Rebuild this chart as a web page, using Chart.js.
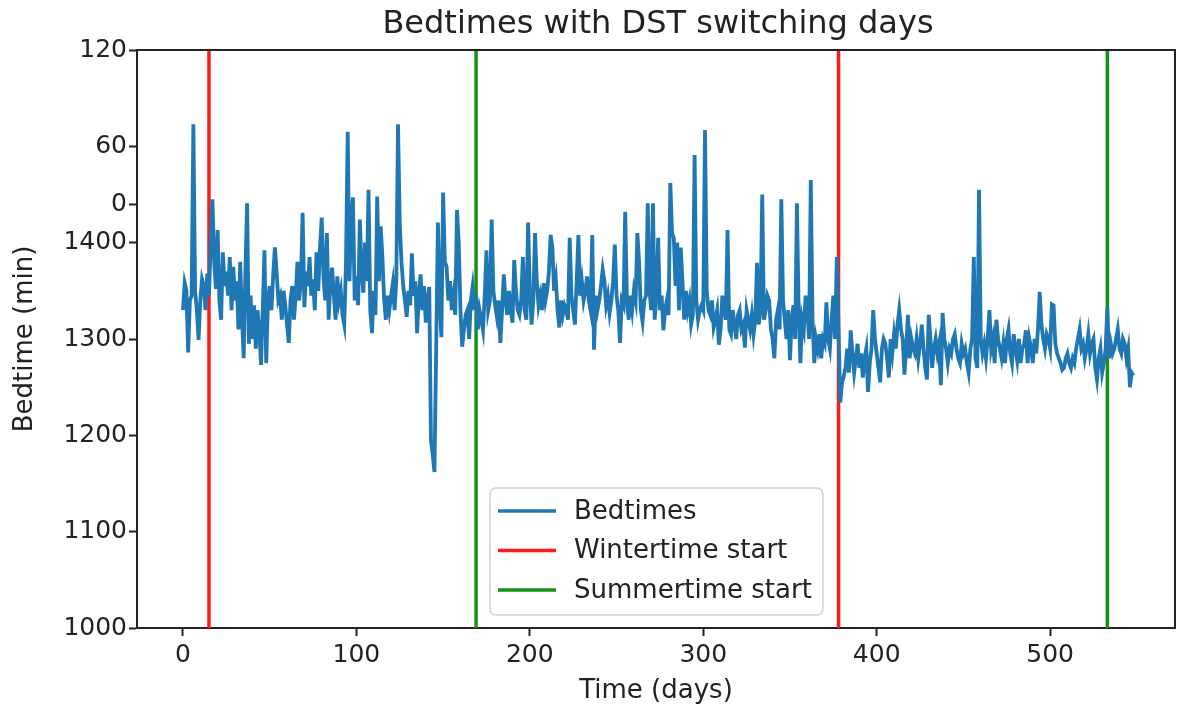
<!DOCTYPE html>
<html>
<head>
<meta charset="utf-8">
<script src="https://cdn.jsdelivr.net/npm/chart.js@4.4.1/dist/chart.umd.min.js"></script>
<style>
  html, body { margin: 0; padding: 0; background: #fff; }
  #bedChart { display: block; }
</style>
</head>
<body>
<canvas id="bedChart" width="1178" height="713"></canvas>
<script>
// --- Data: one bedtime per day (minutes since midnight, wrapped past 1440) ---
const bedtimes = [
  1330, 1358, 1350, 1286, 1340, 1345, 1523, 1350, 1330, 1299,
  1340, 1362, 1355, 1330, 1368, 1345, 1400, 1445, 1380, 1352,
  1413, 1340, 1320, 1390, 1355, 1370, 1345, 1385, 1330, 1375,
  1340, 1360, 1310, 1380, 1325, 1280, 1370, 1441, 1295, 1345,
  1300, 1335, 1290, 1330, 1310, 1273, 1330, 1392, 1275, 1340,
  1355, 1330, 1365, 1395, 1370, 1340, 1345, 1320, 1350, 1335,
  1315, 1296, 1340, 1355, 1320, 1345, 1380, 1340, 1360, 1431,
  1333, 1370, 1355, 1385, 1345, 1362, 1330, 1390, 1350, 1395,
  1426, 1365, 1340, 1410, 1320, 1360, 1374, 1345, 1320, 1365,
  1340, 1350, 1325, 1315, 1380, 1515, 1360, 1420, 1447, 1340,
  1365, 1335, 1424, 1370, 1348, 1400, 1360, 1455, 1330, 1306,
  1350, 1325, 1448, 1360, 1417, 1385, 1340, 1320, 1345, 1330,
  1345, 1358, 1330, 1360, 1523, 1420, 1380, 1355, 1340, 1323,
  1350, 1335, 1389, 1345, 1360, 1306, 1345, 1367, 1330, 1355,
  1317, 1340, 1354, 1195, 1180, 1162, 1290, 1421, 1340, 1302,
  1452, 1380, 1375, 1340, 1360, 1330, 1345, 1325, 1434, 1400,
  1330, 1292, 1310, 1325, 1330, 1300, 1340, 1354, 1330, 1345,
  1310, 1330, 1320, 1309, 1345, 1392, 1330, 1340, 1424, 1350,
  1335, 1323, 1340, 1296, 1330, 1367, 1340, 1325, 1350, 1330,
  1317, 1382, 1350, 1330, 1325, 1340, 1385, 1330, 1320, 1421,
  1350, 1315, 1340, 1410, 1360, 1335, 1345, 1330, 1358, 1340,
  1350, 1370, 1408, 1395, 1350, 1362, 1330, 1312, 1340, 1325,
  1335, 1330, 1320, 1405, 1345, 1330, 1315, 1360, 1408, 1345,
  1360, 1340, 1350, 1365, 1340, 1330, 1408, 1289, 1345, 1330,
  1340, 1355, 1372, 1360, 1335, 1345, 1327, 1340, 1360, 1398,
  1345, 1330, 1296, 1340, 1335, 1432, 1340, 1320, 1345, 1330,
  1350, 1340, 1410, 1380, 1330, 1318, 1340, 1345, 1441, 1350,
  1330, 1441, 1320, 1345, 1405, 1330, 1345, 1309, 1330, 1340,
  1325, 1462, 1410, 1405, 1355, 1400, 1330, 1395, 1360, 1320,
  1350, 1330, 1340, 1315, 1325, 1491, 1340, 1320, 1330, 1335,
  1330, 1517, 1350, 1330, 1325, 1340, 1312, 1320, 1330, 1294,
  1310, 1345, 1330, 1320, 1413, 1310, 1305, 1330, 1315, 1300,
  1325, 1330, 1310, 1315, 1291, 1330, 1320, 1310, 1325, 1305,
  1320, 1379, 1315, 1330, 1450, 1320, 1330, 1345, 1340, 1310,
  1300, 1280, 1320, 1330, 1310, 1445, 1340, 1320, 1300, 1330,
  1278, 1320, 1335, 1300, 1441, 1330, 1275, 1320, 1310, 1345,
  1330, 1300, 1465, 1320, 1275, 1300, 1290, 1305, 1280, 1300,
  1295, 1338, 1300, 1290, 1320, 1345, 1300, 1385, 1310, 1234,
  1255, 1261, 1270, 1290, 1265, 1309, 1285, 1265, 1280, 1295,
  1270, 1285, 1260, 1280, 1290, 1245, 1275, 1290, 1330, 1300,
  1285, 1270, 1255, 1290, 1300, 1295, 1280, 1260, 1300, 1285,
  1305, 1290, 1315, 1330, 1310, 1300, 1263, 1290, 1325, 1280,
  1300, 1290, 1285, 1300, 1280, 1295, 1315, 1290, 1270, 1258,
  1325, 1300, 1270, 1290, 1300, 1285, 1295, 1252, 1327, 1300,
  1290, 1275, 1290, 1285, 1300, 1305, 1290, 1280, 1275, 1295,
  1285, 1290, 1275, 1265, 1290, 1300, 1385, 1280, 1270, 1455,
  1300, 1285, 1295, 1280, 1300, 1330, 1290, 1300, 1275, 1320,
  1300, 1290, 1280, 1295, 1275, 1300, 1310, 1285, 1275, 1305,
  1290, 1278, 1300, 1275, 1290, 1295, 1309, 1275, 1300, 1290,
  1275, 1300, 1285, 1310, 1349, 1315, 1300, 1290, 1305, 1300,
  1290, 1336, 1335, 1295, 1285, 1280, 1275, 1268, 1270, 1280,
  1285, 1275, 1270, 1280, 1275, 1290, 1300, 1310, 1290, 1295,
  1280, 1290, 1305, 1285, 1295, 1300, 1270, 1258, 1280, 1290,
  1265, 1275, 1290, 1333, 1280, 1295, 1285, 1290, 1300, 1310,
  1290, 1285, 1300, 1295, 1280, 1290, 1250, 1265, 1262
];

// DST switching days
const wintertimeDays = [15, 378];
const summertimeDays = [169, 533];

// axis ticks
const xTickValues = [0, 100, 200, 300, 400, 500];
const yTickValues = [1000, 1100, 1200, 1300, 1400, 1440, 1500, 1600];
const yTickLabels = ['1000', '1100', '1200', '1300', '1400', '0', '60', '120'];

const Y_MIN = 1000, Y_MAX = 1600;
const X_MIN = -26.5, X_MAX = 572;

// --- Styles ---
const FONT = "'DejaVu Sans', sans-serif";
const TEXT = '#222';
const BLUE = '#1f77b4';
const RED = '#ff1a1a';
const GREEN = '#1a8f1a';

const tickFont = { family: FONT, size: 25 };

function vline(day, label, color) {
  return {
    label,
    data: [{ x: day, y: Y_MIN }, { x: day, y: Y_MAX }],
    borderColor: color,
    borderWidth: 3.5,
    pointRadius: 0
  };
}

const datasets = [
  {
    label: 'Bedtimes',
    data: bedtimes.map((v, i) => ({ x: i, y: v })),
    borderColor: BLUE,
    borderWidth: 3.8,
    pointRadius: 0,
    tension: 0
  },
  ...wintertimeDays.map(d => vline(d, 'Wintertime start', RED)),
  ...summertimeDays.map(d => vline(d, 'Summertime start', GREEN))
];

const legendItems = [
  { label: 'Bedtimes', color: BLUE },
  { label: 'Wintertime start', color: RED },
  { label: 'Summertime start', color: GREEN }
];

// frame, title and legend drawn on top of the plot
const decor = {
  id: 'decor',
  afterDraw(chart) {
    const { ctx, chartArea: a } = chart;
    ctx.save();

    // top & right spines
    ctx.strokeStyle = TEXT;
    ctx.lineWidth = 2;
    ctx.beginPath();
    ctx.moveTo(a.left, a.top);
    ctx.lineTo(a.right, a.top);
    ctx.lineTo(a.right, a.bottom);
    ctx.stroke();

    // title
    ctx.fillStyle = TEXT;
    ctx.font = `32px ${FONT}`;
    ctx.textAlign = 'center';
    ctx.textBaseline = 'middle';
    ctx.fillText('Bedtimes with DST switching days', (a.left + a.right) / 2 + 2, 25);

    // legend box
    ctx.font = `26px ${FONT}`;
    const textW = Math.max(...legendItems.map(it => ctx.measureText(it.label).width));
    const boxW = 8 + 58 + 17 + textW + 12;
    const boxH = 127;
    const bx = 490;
    const by = a.bottom - 13 - boxH;
    ctx.fillStyle = 'rgba(255,255,255,0.8)';
    ctx.strokeStyle = '#d0d0d0';
    ctx.lineWidth = 1.5;
    ctx.beginPath();
    ctx.roundRect(bx, by, boxW, boxH, 6);
    ctx.fill();
    ctx.stroke();

    ctx.textAlign = 'left';
    legendItems.forEach((it, i) => {
      const y = by + 23 + i * 39.5;
      ctx.strokeStyle = it.color;
      ctx.lineWidth = 3.5;
      ctx.beginPath();
      ctx.moveTo(bx + 8, y);
      ctx.lineTo(bx + 66, y);
      ctx.stroke();
      ctx.fillStyle = TEXT;
      ctx.fillText(it.label, bx + 84, y + 1);
    });

    ctx.restore();
  }
};

new Chart(document.getElementById('bedChart'), {
  type: 'line',
  data: { datasets },
  plugins: [decor],
  options: {
    responsive: false,
    animation: false,
    layout: { padding: { top: 50, right: 3, left: 0, bottom: 0 } },
    plugins: {
      legend: { display: false },
      title: { display: false },
      tooltip: { enabled: false }
    },
    scales: {
      x: {
        type: 'linear',
        min: X_MIN,
        max: X_MAX,
        afterBuildTicks: s => { s.ticks = xTickValues.map(v => ({ value: v })); },
        afterFit: s => { s.height = 85; },
        ticks: { font: tickFont, color: TEXT, padding: 4, maxRotation: 0 },
        grid: { display: true, drawOnChartArea: false, tickLength: 8, tickWidth: 2, tickColor: TEXT },
        border: { display: true, color: TEXT, width: 2 },
        title: {
          display: true, text: 'Time (days)',
          font: { family: FONT, size: 26 }, color: TEXT,
          padding: { top: 0, bottom: 6 }
        }
      },
      y: {
        type: 'linear',
        min: Y_MIN,
        max: Y_MAX,
        afterBuildTicks: s => { s.ticks = yTickValues.map(v => ({ value: v })); },
        afterFit: s => { s.width = 137; },
        ticks: {
          font: tickFont, color: TEXT, padding: 2,
          callback: v => yTickLabels[yTickValues.indexOf(v)]
        },
        grid: { display: true, drawOnChartArea: false, tickLength: 8, tickWidth: 2, tickColor: TEXT },
        border: { display: true, color: TEXT, width: 2 },
        title: {
          display: true, text: 'Bedtime (min)',
          font: { family: FONT, size: 26 }, color: TEXT,
          padding: { top: 10, bottom: 0 }
        }
      }
    }
  }
});
</script>
</body>
</html>
